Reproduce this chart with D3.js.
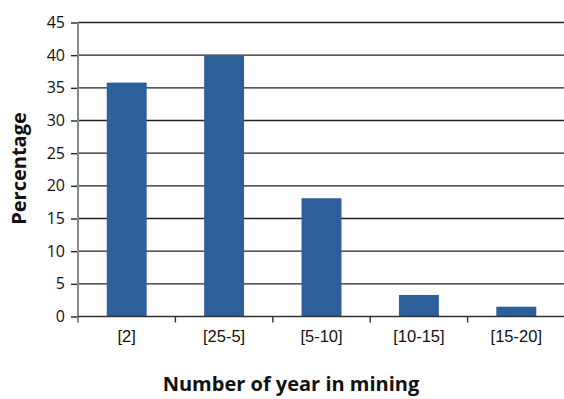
<!DOCTYPE html>
<html>
<head>
<meta charset="utf-8">
<script src="https://cdn.jsdelivr.net/npm/d3@7"></script>
<style>
  html, body { margin: 0; padding: 0; background: #fff; }
  svg { display: block; font-family: "Open Sans", "DejaVu Sans", sans-serif; }
</style>
</head>
<body>
<svg id="chart" width="564" height="399"></svg>
<script>
// Years of mining experience and share of respondents (%)
const categories = ["[2]", "[25-5]", "[5-10]", "[10-15]", "[15-20]"];
const percentages = [35.8, 40, 18.1, 3.3, 1.5];
const yTicks = [0, 5, 10, 15, 20, 25, 30, 35, 40, 45];

const svg = d3.select("#chart");
const margin = { left: 78, right: 0, top: 22.5, bottom: 82.5 };
const W = 564, H = 399;

const x = d3.scaleBand()
  .domain(categories)
  .range([margin.left, W + 1])
  .paddingInner(0.59)
  .paddingOuter(0.295);

const y = d3.scaleLinear()
  .domain([0, 45])
  .range([H - margin.bottom, margin.top]);

// horizontal gridlines
svg.append("g")
  .selectAll("line")
  .data(yTicks.filter(d => d > 0))
  .join("line")
  .attr("x1", margin.left)
  .attr("x2", W)
  .attr("y1", d => y(d))
  .attr("y2", d => y(d))
  .attr("stroke", "#222")
  .attr("stroke-width", 1.4);

// bars
svg.append("g")
  .selectAll("rect")
  .data(percentages)
  .join("rect")
  .attr("x", (d, i) => x(categories[i]))
  .attr("width", x.bandwidth())
  .attr("y", d => y(d))
  .attr("height", d => y(0) - y(d))
  .attr("fill", "#2d5f9b");

// y axis
const yAxis = d3.axisLeft(y).tickValues(yTicks).tickSize(7).tickPadding(6);
const gy = svg.append("g")
  .attr("transform", `translate(${margin.left},0)`)
  .call(yAxis);
gy.select(".domain").remove();
gy.selectAll(".tick line").attr("stroke", "#222").attr("stroke-width", 1.4);
gy.selectAll(".tick text")
  .attr("font-size", 16)
  .attr("fill", "#111")
  .attr("font-family", "'Open Sans', sans-serif");
svg.append("line")
  .attr("x1", margin.left).attr("x2", margin.left)
  .attr("y1", margin.top).attr("y2", y(0) + 6)
  .attr("stroke", "#888").attr("stroke-width", 2);

// x axis baseline and category ticks
const xAxis = d3.axisBottom(x).tickSize(0).tickPadding(14);
const gx = svg.append("g")
  .attr("transform", `translate(0,${y(0)})`)
  .call(xAxis);
gx.select(".domain").remove();
gx.selectAll(".tick text")
  .attr("font-size", 16.5)
  .attr("fill", "#111");
svg.append("line")
  .attr("x1", margin.left).attr("x2", W)
  .attr("y1", y(0)).attr("y2", y(0))
  .attr("stroke", "#333").attr("stroke-width", 1.4);
const step = x.step();
const boundaries = categories.slice(1).map((c, i) => x(c) - x.paddingInner() * step / 2);
svg.append("g")
  .selectAll("line")
  .data(boundaries)
  .join("line")
  .attr("x1", d => d).attr("x2", d => d)
  .attr("y1", y(0)).attr("y2", y(0) + 6)
  .attr("stroke", "#333").attr("stroke-width", 1.4);

// axis titles
svg.append("text")
  .attr("x", 291)
  .attr("y", 391)
  .attr("text-anchor", "middle")
  .attr("font-size", 20)
  .attr("font-weight", "bold")
  .attr("fill", "#111")
  .text("Number of year in mining");

svg.append("text")
  .attr("transform", `translate(26,168.5) rotate(-90)`)
  .attr("text-anchor", "middle")
  .attr("font-size", 20)
  .attr("font-weight", "bold")
  .attr("fill", "#111")
  .text("Percentage");
</script>
</body>
</html>
